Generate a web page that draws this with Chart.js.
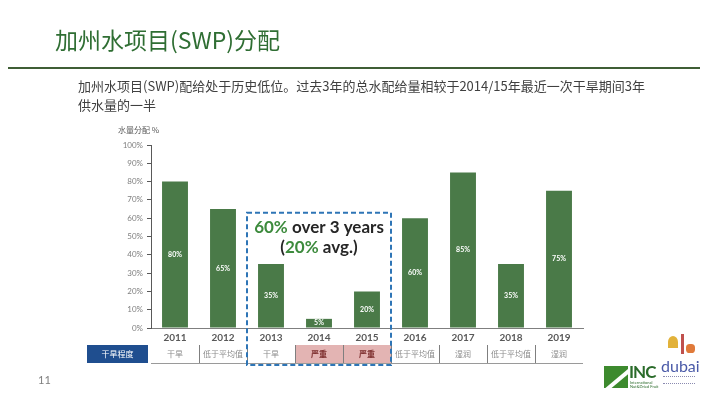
<!DOCTYPE html>
<html>
<head>
<meta charset="utf-8">
<script src="https://cdn.jsdelivr.net/npm/chart.js@4"></script>
<style>
    body { margin: 0; background: #fff; }
    #page { position: relative; width: 710px; height: 399px; overflow: hidden; font-family: "Noto Sans CJK SC", sans-serif; }
    #chart { position: absolute; left: 0; top: 0; }
    .title { position: absolute; left: 55px; top: 22px; font-size: 23px; color: #2f6e33; }
    .rule { position: absolute; left: 8px; top: 67px; width: 692px; height: 2px; background: #3f5e35; }
    .sub { position: absolute; left: 78px; top: 76px; font-size: 13px; line-height: 19px; color: #404040; }
    .ytitle { position: absolute; left: 118px; top: 124px; font-size: 8px; color: #595959; }
    .page-no { position: absolute; left: 38px; top: 373px; font-size: 11px; color: #7f7f7f; font-family: Lato, sans-serif; }
    .inc { position: absolute; left: 604px; top: 366px; width: 24px; height: 22px; background: #3d8a2e; overflow: hidden; }
    .inc:after { content: ""; position: absolute; left: -8px; top: 12px; width: 44px; height: 4px; background: #fff; transform: rotate(-40deg); }
    .inc-t { position: absolute; left: 629px; top: 361px; font: bold 17px Lato, sans-serif; color: #2a6b2a; letter-spacing: -1px; }
    .inc-s { position: absolute; left: 630px; top: 381px; font: 4px Lato, sans-serif; color: #2a6b2a; line-height: 4px; }
    .dubai { position: absolute; left: 661px; top: 356px; font: 16px Lato, sans-serif; color: #4a5aa8; }
    .dubai-s { position: absolute; left: 663px; top: 376px; width: 32px; height: 6px; border-top: 1px dotted #8a8ab0; border-bottom: 1px dotted #8a8ab0; }
    .palm { position: absolute; left: 668px; top: 336px; width: 10px; height: 12px; border-radius: 50% 50% 0 0; background: #e2b23a; }
    .tower { position: absolute; left: 681px; top: 334px; width: 3px; height: 20px; background: #c0504d; }
    .cam { position: absolute; left: 686px; top: 344px; width: 9px; height: 9px; border-radius: 40%; background: #e07a3a; }
</style>
</head>
<body>
<div id="page">
    <canvas id="chart" width="710" height="399"></canvas>
    <div class="title">加州水项目(SWP)分配</div>
    <div class="rule"></div>
    <div class="sub">加州水项目(SWP)配给处于历史低位。过去3年的总水配给量相较于2014/15年最近一次干旱期间3年<br>供水量的一半</div>
    <div class="ytitle">水量分配 %</div>
    <div class="page-no">11</div>
    <div class="inc"></div>
    <div class="inc-t">INC</div>
    <div class="inc-s">International<br>Nut&amp;Dried Fruit</div>
    <div class="palm"></div>
    <div class="tower"></div>
    <div class="cam"></div>
    <div class="dubai">dubai</div>
    <div class="dubai-s"></div>
</div>
<script>
const years = ['2011', '2012', '2013', '2014', '2015', '2016', '2017', '2018', '2019'];
const allocation = [80, 65, 35, 5, 20, 60, 85, 35, 75];
const droughtLevel = ['干旱', '低于平均值', '干旱', '严重', '严重', '低于平均值', '湿润', '低于平均值', '湿润'];
const severeYears = ['2014', '2015'];
const boxYears = ['2013', '2015'];
const boxTop = 63;

const barLabels = {
    id: 'barLabels',
    afterDatasetsDraw(chart) {
        const ctx = chart.ctx;
        const meta = chart.getDatasetMeta(0);
        ctx.save();
        ctx.fillStyle = '#ffffff';
        ctx.font = 'bold 7px Lato, sans-serif';
        ctx.textAlign = 'center';
        ctx.textBaseline = 'middle';
        meta.data.forEach((bar, i) => {
            ctx.fillText(allocation[i] + '%', bar.x, (bar.y + bar.base) / 2);
        });
        ctx.restore();
    }
};

const droughtRow = {
    id: 'droughtRow',
    afterDraw(chart) {
        const ctx = chart.ctx;
        const x = chart.scales.x;
        const y = chart.scales.y;
        const step = x.getPixelForValue(1) - x.getPixelForValue(0);
        const top = 345, h = 18;
        ctx.save();
        // label cell
        ctx.fillStyle = '#1f4e8f';
        ctx.fillRect(87, top, x.left - 87 - 3, h);
        ctx.fillStyle = '#ffffff';
        ctx.font = '8px "Noto Sans CJK SC"';
        ctx.textAlign = 'center';
        ctx.textBaseline = 'middle';
        ctx.fillText('干旱程度', (87 + x.left - 3) / 2, top + h / 2);

        years.forEach((yr, i) => {
            const cx = x.getPixelForValue(i);
            const l = cx - step / 2;
            if (severeYears.includes(yr)) {
                ctx.fillStyle = '#e3b4b3';
                ctx.fillRect(l, top, step, h);
                ctx.fillStyle = '#7a2a2a';
                ctx.font = 'bold 8px "Noto Sans CJK SC"';
            } else {
                ctx.fillStyle = '#8c8c8c';
                ctx.font = '8px "Noto Sans CJK SC"';
            }
            ctx.fillText(droughtLevel[i], cx, top + h / 2);
            if (i > 0) {
                ctx.strokeStyle = '#7f7f7f';
                ctx.lineWidth = 1;
                ctx.beginPath();
                ctx.moveTo(Math.round(l) + 0.5, top);
                ctx.lineTo(Math.round(l) + 0.5, top + h);
                ctx.stroke();
            }
        });
        ctx.strokeStyle = '#9a9a9a';
        ctx.beginPath();
        ctx.moveTo(x.left, top + h + 0.5);
        ctx.lineTo(x.right, top + h + 0.5);
        ctx.stroke();

        // dashed box around the drought years
        const i0 = years.indexOf(boxYears[0]);
        const i1 = years.indexOf(boxYears[1]);
        const bl = x.getPixelForValue(i0) - step / 2;
        const br = x.getPixelForValue(i1) + step / 2;
        const bt = y.getPixelForValue(boxTop);
        const bb = top + h + 2;
        ctx.strokeStyle = '#2e75b6';
        ctx.lineWidth = 2;
        ctx.setLineDash([5, 3]);
        ctx.strokeRect(bl, bt, br - bl, bb - bt);
        ctx.setLineDash([]);

        // annotation
        const mid = (bl + br) / 2;
        ctx.font = 'bold 17px Lato, sans-serif';
        ctx.textBaseline = 'middle';
        ctx.textAlign = 'left';
        const a1 = '60%', b1 = ' over 3 years';
        const w1 = ctx.measureText(a1 + b1).width;
        let sx = mid - w1 / 2;
        ctx.fillStyle = '#3d8b3d';
        ctx.fillText(a1, sx, 228);
        ctx.fillStyle = '#262626';
        ctx.fillText(b1, sx + ctx.measureText(a1).width, 228);
        const p0 = '(', p1 = '20%', p2 = ' avg.)';
        const w2 = ctx.measureText(p0 + p1 + p2).width;
        sx = mid - w2 / 2;
        ctx.fillStyle = '#262626';
        ctx.fillText(p0, sx, 248);
        sx += ctx.measureText(p0).width;
        ctx.fillStyle = '#3d8b3d';
        ctx.fillText(p1, sx, 248);
        sx += ctx.measureText(p1).width;
        ctx.fillStyle = '#262626';
        ctx.fillText(p2, sx, 248);
        ctx.restore();
    }
};

new Chart(document.getElementById('chart'), {
    type: 'bar',
    data: {
        labels: years,
        datasets: [{
            data: allocation,
            backgroundColor: '#4a7a48',
            barPercentage: 0.54,
            categoryPercentage: 1
        }]
    },
    options: {
        responsive: false,
        animation: false,
        layout: { padding: { top: 145, right: 127, left: 0, bottom: 0 } },
        plugins: { legend: { display: false }, tooltip: { enabled: false } },
        scales: {
            x: {
                afterFit: s => { s.height = 71; },
                grid: { display: false },
                border: { color: '#7f7f7f', width: 1 },
                ticks: { color: '#595959', font: { family: 'Lato', size: 10, weight: 'bold' }, padding: -4 }
            },
            y: {
                min: 0,
                max: 100,
                afterFit: s => { s.width = 151; },
                ticks: { stepSize: 10, color: '#7f7f7f', font: { family: 'Lato', size: 8 }, padding: 4, callback: v => v + '%' },
                grid: { drawOnChartArea: false, tickLength: 4, color: '#595959' },
                border: { color: '#595959', width: 1 }
            }
        }
    },
    plugins: [barLabels, droughtRow]
});
</script>
</body>
</html>
